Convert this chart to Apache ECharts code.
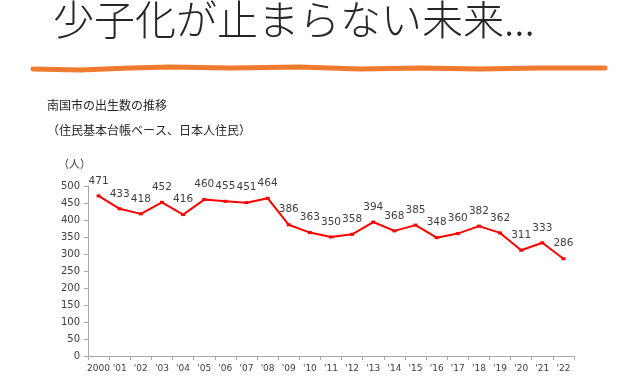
<!DOCTYPE html>
<html><head><meta charset="utf-8">
<script src="https://cdn.jsdelivr.net/npm/echarts@6/dist/echarts.min.js"></script>
<style>html,body{margin:0;padding:0;background:#fff}#c{width:640px;height:380px}</style>
</head><body><div id="c"></div>
<script>
const categories = ["2000","'01","'02","'03","'04","'05","'06","'07","'08","'09","'10","'11","'12","'13","'14","'15","'16","'17","'18","'19","'20","'21","'22"];
const births = [471,433,418,452,416,460,455,451,464,386,363,350,358,394,368,385,348,360,382,362,311,333,286];
const yTicks = {min:0, max:500, interval:50};

const chart = echarts.init(document.getElementById('c'));
chart.setOption({
  animation:false,
  backgroundColor:'#fff',
  title:[
    {text:'少子化が止まらない未来...', left:48, top:-6,
     textStyle:{fontFamily:'Noto Sans CJK JP', fontSize:41, fontWeight:300, color:'#262626'}},
    {text:'南国市の出生数の推移', left:42, top:94,
     textStyle:{fontFamily:'Noto Sans CJK JP', fontSize:12, fontWeight:'normal', color:'#262626'}},
    {text:'（住民基本台帳ベース、日本人住民）', left:42, top:119,
     textStyle:{fontFamily:'Noto Sans CJK JP', fontSize:12, fontWeight:'normal', color:'#262626'}},
    {text:'（人）', left:53, top:153,
     textStyle:{fontFamily:'Noto Sans CJK JP', fontSize:11, fontWeight:'normal', color:'#404040'}}
  ],
  graphic:[{
    type:'polyline',
    shape:{points:[[33,69],[80,70],[130,68],[170,67],[230,68],[300,67],[360,69],[420,68],[480,69],[540,68],[605,68]]},
    style:{stroke:'#EE7B30', lineWidth:5, lineCap:'round', lineJoin:'round'}
  }],
  grid:{left:88, right:66, top:186, bottom:24, containLabel:false},
  xAxis:{
    type:'category', data:categories, boundaryGap:true,
    axisLine:{lineStyle:{color:'#a6a6a6'}},
    axisTick:{show:true, alignWithLabel:false, length:4, lineStyle:{color:'#a6a6a6'}},
    axisLabel:{interval:0, color:'#404040', fontFamily:'DejaVu Sans', fontSize:9, margin:8}
  },
  yAxis:{
    type:'value', min:yTicks.min, max:yTicks.max, interval:yTicks.interval,
    splitLine:{show:false},
    axisLine:{show:true, lineStyle:{color:'#a6a6a6'}},
    axisTick:{show:true, length:4, lineStyle:{color:'#a6a6a6'}},
    axisLabel:{color:'#404040', fontFamily:'DejaVu Sans', fontSize:10, margin:8}
  },
  series:[{
    type:'line', data:births,
    lineStyle:{color:'#FF0000', width:2},
    itemStyle:{color:'#FF0000'},
    symbol:'rect', symbolSize:[4,3], showSymbol:true,
    label:{show:true, position:'top', distance:8, color:'#404040', fontFamily:'DejaVu Sans', fontSize:10.5}
  }]
});
</script></body></html>
